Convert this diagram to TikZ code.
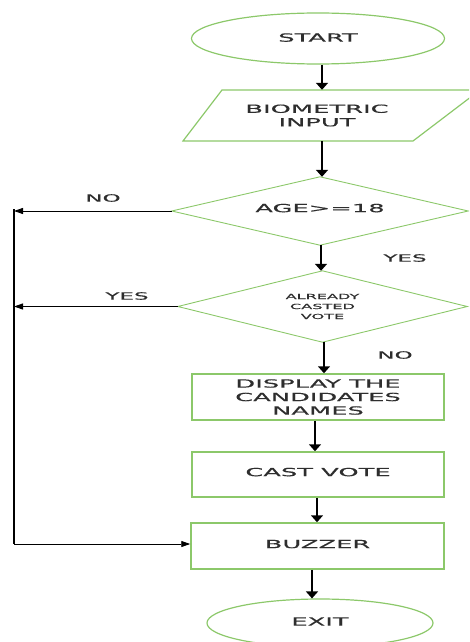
\documentclass[tikz,border=0pt]{standalone}
\usepackage{fontspec}
\setmainfont{DejaVu Sans}[FakeStretch=2.3,FakeBold=0.4]
\usetikzlibrary{shapes.geometric,arrows.meta,calc}
\definecolor{flowgreen}{HTML}{8CC86A}
\definecolor{txtgray}{HTML}{2E2E2E}
\begin{document}
\begin{tikzpicture}[x=1pt,y=-1pt,
  every node/.style={text=txtgray,font=\fontsize{11.2pt}{13.5pt}\selectfont},
  term/.style={ellipse,draw=flowgreen,line width=1.2pt,inner sep=0pt},
  decide/.style={rectangle,inner sep=0pt,align=center},
  dline/.style={draw=flowgreen,line width=0.9pt},
  proc/.style={rectangle,draw=flowgreen,line width=1.5pt,inner sep=0pt,align=center},
  arr/.style={draw=black,line width=1.6pt,-{Triangle[length=7pt,width=12pt]}},
  sidearr/.style={draw=black,line width=0.9pt,-{Triangle[length=9pt,width=6pt]}},
  sideline/.style={draw=black,line width=1.5pt},
  lbl/.style={font=\fontsize{10pt}{12pt}\selectfont}]
\useasboundingbox (0,0) rectangle (469,642);
\clip (0,0) rectangle (469,642);
% nodes
\node[term,minimum width=253pt,minimum height=51pt] (start) at (318,38.5) {\raisebox{2pt}{START}};
\draw[flowgreen,line width=1.2pt] (183,141) -- (222,90) -- (480,90) -- (413,141) -- cycle;
\node[minimum width=180pt,minimum height=51pt,align=center] (bio) at (317,115.5) {BIOMETRIC\\INPUT};
\node[decide,minimum width=296pt,minimum height=68pt] (age) at (320,211) {\raisebox{6pt}{AGE>=18}};
\draw[dline] (age.west) -- (age.north) -- (age.east) -- (age.south) -- cycle;
\node[decide,minimum width=289pt,minimum height=71pt,font=\fontsize{7pt}{10pt}\selectfont] (cast) at (322.5,306.5) {ALREADY\\CASTED\\VOTE};
\draw[dline] (cast.west) -- (cast.north) -- (cast.east) -- (cast.south) -- cycle;
\node[proc,minimum width=252pt,minimum height=46pt] (disp) at (318,397) {DISPLAY THE\\CANDIDATES\\NAMES};
\node[proc,minimum width=252pt,minimum height=45pt] (vote) at (318,474.5) {\raisebox{5pt}{CAST VOTE}};
\node[proc,minimum width=253pt,minimum height=46pt] (buzz) at (317.5,546) {\raisebox{4pt}{BUZZER}};
\node[term,minimum width=226pt,minimum height=48pt] (exit) at (320,623) {\raisebox{3pt}{EXIT}};
% helper coordinates
\coordinate (x1) at (322,0);
\coordinate (x2) at (321,0);
\coordinate (x3) at (324,0);
\coordinate (x4) at (315,0);
\coordinate (x5) at (317,0);
\coordinate (x6) at (312,0);
\coordinate (c1) at (14,211);
\coordinate (c2) at (c1 |- cast.west);
\coordinate (c3) at (14,544);
% main flow
\draw[arr] (start.south -| x1) -- (bio.north -| x1);
\draw[arr] (bio.south -| x1) -- (age.north -| x1);
\draw[arr] (age.south -| x2) -- (cast.north -| x2);
\draw[arr] (cast.south -| x3) -- (disp.north -| x3);
\draw[arr] (disp.south -| x4) -- (vote.north -| x4);
\draw[arr] (vote.south -| x5) -- (buzz.north -| x5);
\draw[arr] (buzz.south -| x6) -- (exit.north -| x6);
% side paths
\draw[sideline] ($(c1)+(0,-2)$) -- (c3);
\draw[sidearr] (age.west) -- (c1);
\draw[sidearr] (cast.west) -- (c2);
\draw[sidearr] (c3) -- (buzz.west |- c3);
% labels
\node[lbl] (lno1) at (103,198) {NO};
\node[lbl] (lyes1) at (405,258) {YES};
\node[lbl] (lyes2) at (127,296) {YES};
\node[lbl] (lno2) at (395,355) {NO};
\end{tikzpicture}
\end{document}
